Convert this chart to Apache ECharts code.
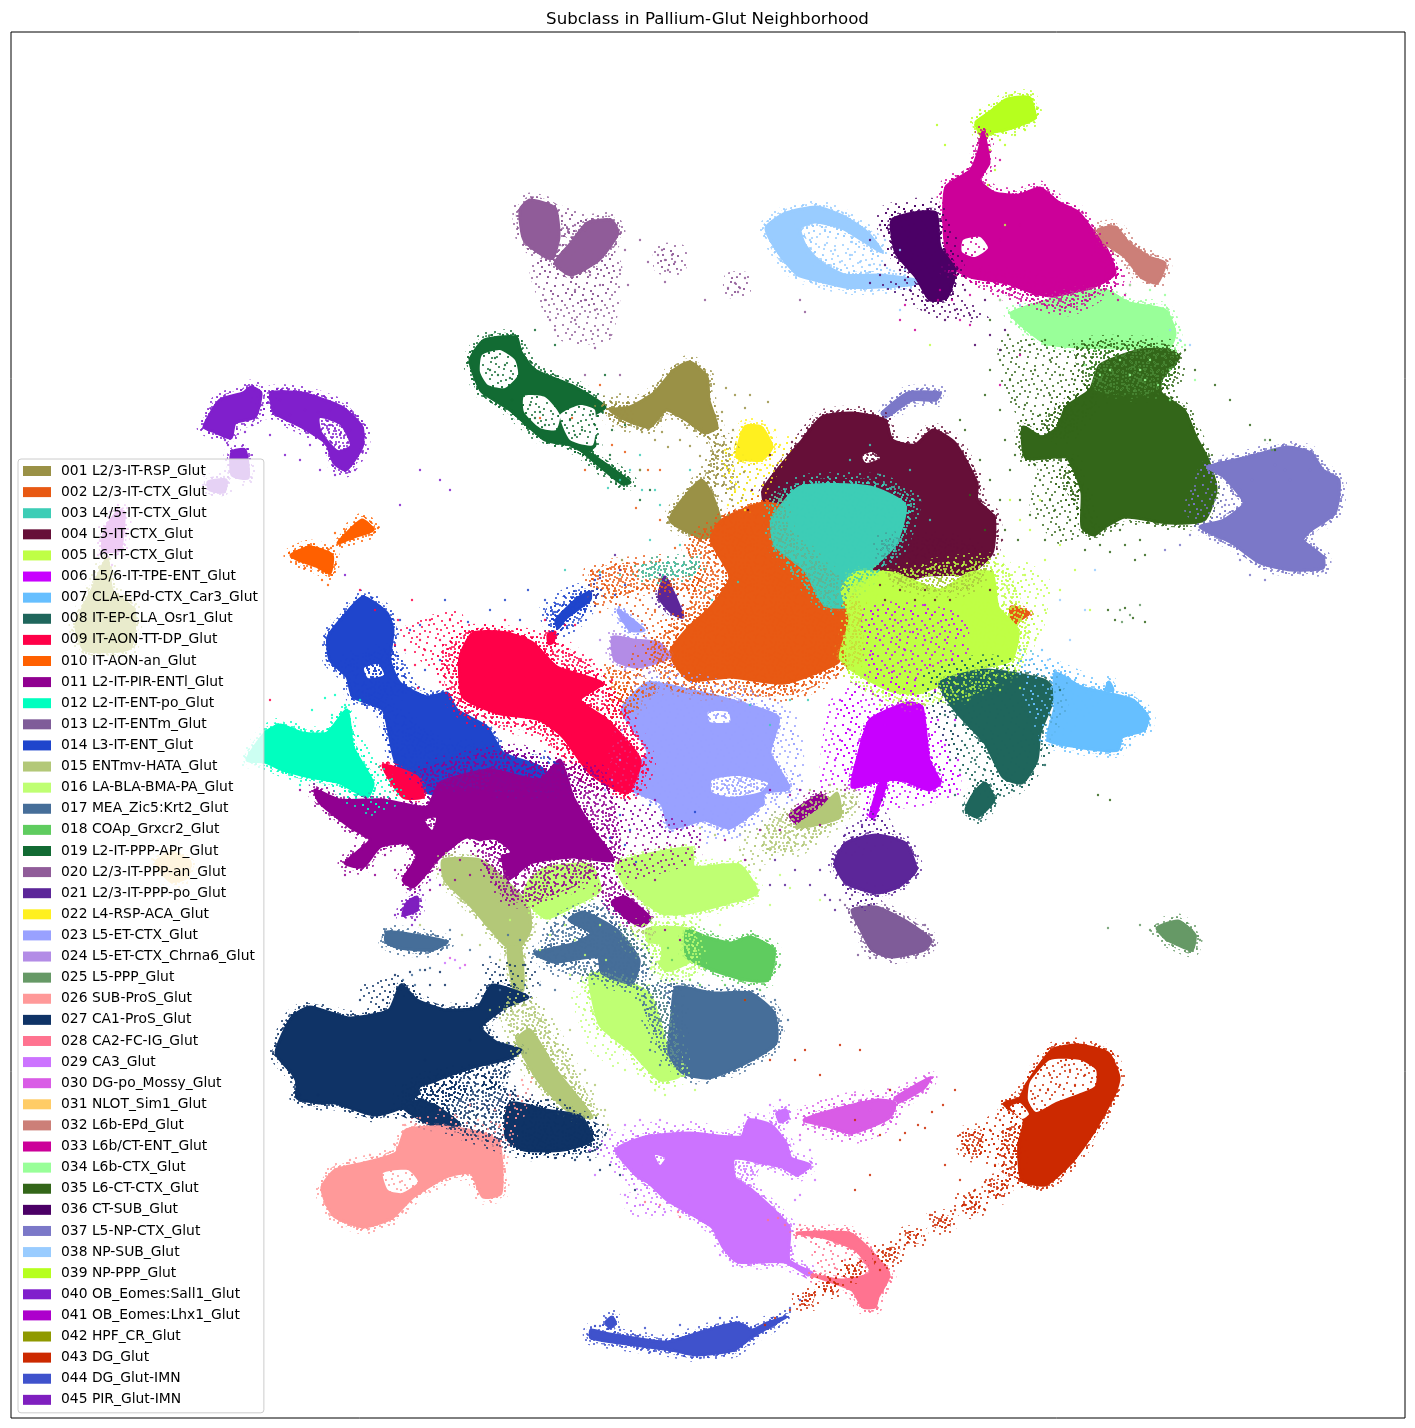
<!DOCTYPE html>
<html>
<head>
<meta charset="utf-8">
<script src="https://cdn.jsdelivr.net/npm/echarts@6/dist/echarts.min.js"></script>
<style>html,body{margin:0;padding:0;background:#fff}#main{width:1415px;height:1428px}</style>
</head>
<body>
<div id="main"></div>
<script>
const names = ['001 L2/3-IT-RSP_Glut','002 L2/3-IT-CTX_Glut','003 L4/5-IT-CTX_Glut','004 L5-IT-CTX_Glut','005 L6-IT-CTX_Glut','006 L5/6-IT-TPE-ENT_Glut','007 CLA-EPd-CTX_Car3_Glut','008 IT-EP-CLA_Osr1_Glut','009 IT-AON-TT-DP_Glut','010 IT-AON-an_Glut','011 L2-IT-PIR-ENTl_Glut','012 L2-IT-ENT-po_Glut','013 L2-IT-ENTm_Glut','014 L3-IT-ENT_Glut','015 ENTmv-HATA_Glut','016 LA-BLA-BMA-PA_Glut','017 MEA_Zic5:Krt2_Glut','018 COAp_Grxcr2_Glut','019 L2-IT-PPP-APr_Glut','020 L2/3-IT-PPP-an_Glut','021 L2/3-IT-PPP-po_Glut','022 L4-RSP-ACA_Glut','023 L5-ET-CTX_Glut','024 L5-ET-CTX_Chrna6_Glut','025 L5-PPP_Glut','026 SUB-ProS_Glut','027 CA1-ProS_Glut','028 CA2-FC-IG_Glut','029 CA3_Glut','030 DG-po_Mossy_Glut','031 NLOT_Sim1_Glut','032 L6b-EPd_Glut','033 L6b/CT-ENT_Glut','034 L6b-CTX_Glut','035 L6-CT-CTX_Glut','036 CT-SUB_Glut','037 L5-NP-CTX_Glut','038 NP-SUB_Glut','039 NP-PPP_Glut','040 OB_Eomes:Sall1_Glut','041 OB_Eomes:Lhx1_Glut','042 HPF_CR_Glut','043 DG_Glut','044 DG_Glut-IMN','045 PIR_Glut-IMN'];
const colors = ['#9A9146','#E85913','#3DCDB6','#660F38','#BFFF45','#C800FF','#66BFFF','#1F665C','#FF0048','#FF6000','#900090','#00FFBF','#7F5C99','#1F45CC','#B3C878','#BFFF73','#466E99','#5FCC5F','#126B33','#905C99','#5C2699','#FFF01F','#99A1FF','#B38CE6','#669966','#FF9999','#0F3366','#FF7390','#CC73FF','#D95CE6','#FFCC66','#CC7F78','#CC0099','#99FF99','#336619','#4B0066','#7B78C8','#99CCFF','#B6FF1E','#801FCC','#AD00CC','#8F9900','#CC2900','#3F52CC','#7F1FBF'];
// subclass numbers in the order they get painted
const paintOrder = [42,41,31,45,40,10,20,19,39,38,33,36,32,34,35,37,25,4,1,22,2,3,5,6,8,7,24,23,12,14,9,11,15,16,18,17,27,26,29,28,30,43,44,21,13];
// subclasses whose loose surroundings are thick with cells
const thickHaze = [1,2,3,4,5,9,11,14,15,16,17,27,33,34,35,43];
// holes that stay nearly empty
const emptyGaps = [19,26,28,33,43];

// dense bodies of each subclass, UMAP position
const core = {};
core[1] = [[[610,410],[630,407],[654,393],[674,370],[690,362],[707,377],[709,400],[717,427],[705,433],[686,420],[666,410],[650,427],[626,420]],[[701,480],[670,520],[705,538],[721,527],[713,497]]];
core[2] = [[[711,540],[722,520],[763,503],[790,510],[815,560],[825,597],[855,610],[850,640],[837,663],[785,683],[730,677],[689,680],[670,653],[689,627],[711,607],[730,577]],[[1011,607],[1029,613],[1020,620],[1013,628]]];
core[3] = [[[772,520],[800,487],[870,487],[905,505],[895,545],[860,580],[855,605],[825,605],[805,570],[775,545]]];
core[4] = [[[763,490],[800,443],[822,417],[852,413],[885,420],[892,440],[915,445],[933,430],[955,443],[977,483],[977,500],[994,517],[992,553],[970,573],[926,575],[896,585],[860,590],[800,560],[770,520]]];
core[5] = [[[855,573],[892,573],[940,590],[970,573],[992,573],[998,607],[1018,630],[1011,660],[970,670],[944,683],[918,693],[889,690],[852,670],[840,657],[850,620],[842,590]]];
core[6] = [[[907,703],[922,707],[929,760],[940,783],[929,790],[903,780],[881,780],[852,787],[859,753],[870,720]],[[881,780],[886,783],[874,817],[870,816]]];
core[7] = [[[1055,673],[1081,687],[1107,693],[1133,700],[1148,717],[1144,730],[1122,737],[1118,750],[1100,750],[1077,747],[1048,740],[1055,707]],[[1106,690],[1109,682],[1113,690]]];
core[8] = [[[940,683],[985,670],[1044,680],[1055,693],[1040,733],[1037,760],[1022,783],[1003,777],[985,743],[955,710]],[[985,783],[994,800],[977,817],[966,810],[974,793]]];
core[9] = [[[473,633],[507,633],[533,643],[557,667],[602,683],[580,700],[607,720],[640,760],[627,793],[590,773],[563,737],[540,720],[497,713],[463,697],[460,657]],[[383,765],[417,777],[423,797],[403,797]],[[548,635],[555,632],[553,642],[549,644]]];
core[10] = [[[291,555],[310,547],[332,555],[330,573],[318,567],[298,560]],[[338,543],[362,520],[373,530],[354,537]]];
core[11] = [[[315,790],[340,800],[383,800],[427,807],[440,783],[490,770],[540,780],[560,760],[573,797],[593,830],[613,860],[573,857],[530,863],[507,880],[500,850],[467,837],[440,857],[423,877],[413,887],[403,880],[417,857],[407,843],[380,847],[363,867],[345,863],[370,840],[350,827],[320,803]],[[612,902],[625,897],[650,918],[642,926],[625,917]],[[790,815],[820,795],[828,800],[800,825]]];
core[12] = [[[247,760],[265,733],[280,725],[303,733],[327,733],[347,710],[353,747],[373,783],[367,797],[340,783],[310,777],[283,770],[265,762]]];
core[13] = [[[852,910],[876,907],[909,923],[931,940],[924,950],[891,957],[872,950],[861,930]]];
core[14] = [[[363,597],[387,613],[393,630],[390,660],[400,683],[427,697],[447,693],[457,710],[487,727],[503,753],[540,767],[560,790],[470,800],[420,790],[395,760],[383,710],[353,697],[347,677],[330,660],[328,637],[343,617]],[[556,620],[578,598],[590,592],[590,600],[566,618],[558,628]]];
core[15] = [[[443,860],[480,860],[505,880],[528,905],[530,930],[517,950],[505,945],[470,905],[445,880]],[[508,945],[520,945],[523,990],[514,990]],[[517,1040],[530,1030],[556,1070],[592,1117],[571,1113],[538,1080]],[[796,827],[822,808],[837,793],[840,817],[815,825]]];
core[16] = [[[617,863],[691,848],[694,867],[739,865],[757,893],[728,903],[687,913],[661,913],[625,885]],[[524,897],[530,880],[546,868],[590,865],[600,890],[575,905],[546,918]],[[590,975],[612,975],[650,995],[665,1040],[680,1075],[660,1080],[630,1050],[600,1025]],[[646,930],[691,930],[691,960],[665,970]]];
core[17] = [[[676,987],[713,993],[750,993],[774,1013],[776,1043],[746,1063],[709,1078],[683,1073],[669,1053],[672,1013]],[[387,932],[415,935],[447,942],[432,950],[400,948],[386,942]],[[569,920],[583,912],[617,930],[639,960],[632,983],[602,973],[598,957],[554,962],[535,953],[576,943],[591,933]]];
core[18] = [[[687,930],[706,937],[731,943],[750,937],[774,950],[768,980],[746,980],[713,970],[687,957]]];
core[19] = [[[470,360],[484,340],[516,337],[521,352],[535,370],[575,387],[605,407],[590,418],[595,445],[585,452],[570,445],[545,440],[510,410],[482,392],[475,378]],[[575,445],[585,450],[630,482],[622,484]]];
core[20] = [[[520,210],[530,200],[555,208],[559,237],[553,258],[547,258],[524,240]],[[587,223],[611,220],[618,233],[599,260],[571,275],[555,263],[571,243]]];
core[21] = [[[835,863],[846,843],[876,835],[905,843],[916,870],[898,887],[876,893],[846,883]],[[665,577],[683,617],[672,613],[659,597]]];
core[22] = [[[737,457],[745,427],[761,427],[772,447],[761,460]]];
core[23] = [[[648,683],[689,690],[730,700],[778,717],[770,753],[789,788],[763,793],[763,803],[730,828],[704,820],[670,828],[661,803],[618,783],[648,753],[622,710]],[[618,610],[644,630],[630,630]]];
core[24] = [[[613,637],[633,640],[659,643],[670,657],[637,667],[615,660]]];
core[25] = [[[1157,928],[1178,921],[1195,935],[1192,950],[1178,945],[1165,938]]];
core[26] = [[[322,1187],[335,1170],[364,1163],[396,1153],[406,1130],[446,1127],[481,1133],[499,1143],[501,1193],[483,1197],[471,1173],[446,1177],[413,1197],[392,1218],[364,1227],[335,1217],[326,1203]]];
core[27] = [[[276,1053],[292,1017],[310,1007],[349,1018],[389,1010],[401,985],[417,1000],[446,1010],[478,1007],[492,985],[528,997],[506,1007],[481,1027],[496,1042],[521,1050],[510,1058],[474,1067],[431,1083],[403,1107],[374,1115],[335,1103],[319,1103],[297,1098],[297,1083],[292,1073]],[[510,1103],[546,1110],[581,1117],[592,1140],[563,1150],[524,1150],[506,1137]],[[403,1107],[425,1100],[460,1125],[432,1125]]];
core[28] = [[[797,1233],[849,1233],[867,1247],[889,1275],[878,1297],[875,1307],[863,1307],[852,1290],[812,1275],[841,1280],[871,1273],[856,1250],[826,1238]]];
core[29] = [[[616,1150],[645,1137],[690,1133],[741,1137],[749,1120],[771,1125],[786,1143],[791,1158],[810,1165],[797,1175],[782,1167],[756,1163],[734,1177],[752,1190],[789,1227],[789,1260],[812,1273],[808,1275],[785,1262],[738,1262],[723,1247],[712,1227],[667,1200],[649,1183],[638,1177]],[[777,1113],[786,1110],[788,1118],[780,1122]]];
core[30] = [[[804,1120],[841,1108],[878,1100],[895,1103],[889,1118],[852,1133],[830,1127]],[[895,1098],[930,1078],[924,1088],[899,1102]]];
core[31] = [[[156,862],[172,853],[190,862],[186,878],[170,881]]];
core[32] = [[[1098,230],[1115,227],[1129,243],[1149,257],[1165,263],[1157,283],[1141,277],[1125,257],[1105,243]]];
core[33] = [[[983,132],[989,163],[979,180],[995,193],[1019,195],[1040,188],[1058,202],[1078,212],[1090,227],[1107,250],[1115,273],[1102,283],[1066,297],[1034,293],[1007,283],[971,277],[950,265],[944,230],[946,187],[971,170],[979,150]]];
core[34] = [[[1011,313],[1050,300],[1105,290],[1129,303],[1165,310],[1175,333],[1169,347],[1078,347],[1046,343],[1019,323]]];
core[35] = [[[1023,427],[1042,437],[1058,427],[1066,407],[1090,390],[1100,365],[1140,350],[1169,350],[1179,357],[1161,380],[1161,393],[1184,410],[1196,437],[1208,460],[1216,490],[1204,520],[1169,523],[1125,517],[1105,527],[1094,535],[1082,527],[1082,493],[1074,470],[1066,457],[1026,458]]];
core[36] = [[[892,220],[920,212],[936,213],[940,247],[955,270],[947,297],[930,300],[916,277],[896,253]]];
core[37] = [[[1208,467],[1248,457],[1287,447],[1311,453],[1323,470],[1339,480],[1335,513],[1311,530],[1303,540],[1323,557],[1323,568],[1291,570],[1260,563],[1232,543],[1200,527],[1224,520],[1244,503],[1224,477]],[[882,413],[908,393],[940,393],[936,400],[912,400],[886,417]]];
core[38] = [[[766,228],[786,213],[817,207],[845,217],[868,233],[882,252],[862,240],[842,228],[815,222],[800,228],[805,245],[820,262],[845,275],[880,275],[915,280],[915,284],[880,287],[845,287],[815,280],[798,275],[780,255]]];
core[39] = [[[976,122],[990,112],[1005,100],[1020,97],[1030,98],[1035,118],[1020,125],[1005,130],[990,133],[984,140],[978,130]]];
core[40] = [[[204,427],[220,400],[243,393],[251,387],[261,393],[255,417],[235,423],[231,438],[215,432]],[[271,393],[302,393],[342,407],[362,427],[362,447],[346,470],[334,463],[326,443],[302,427],[275,413]],[[232,452],[245,450],[248,478],[232,475]],[[208,482],[226,480],[224,492],[210,490]]];
core[41] = [[[117,512],[124,512],[120,550],[103,550],[105,530]]];
core[42] = [[[107,558],[112,590],[134,610],[130,648],[85,650],[76,625],[92,590]]];
core[43] = [[[1019,1143],[1024,1120],[1004,1104],[1020,1098],[1026,1085],[1052,1050],[1078,1045],[1108,1053],[1119,1077],[1115,1093],[1093,1133],[1071,1163],[1045,1185],[1022,1180],[1019,1163]]];
core[44] = [[[591,1330],[591,1338],[634,1345],[671,1350],[697,1355],[734,1350],[752,1337],[786,1317],[767,1323],[752,1330],[738,1323],[708,1330],[667,1342],[634,1338],[604,1333]],[[606,1322],[612,1317],[615,1322],[610,1328]]];
core[45] = [[[407,903],[417,897],[417,910],[403,915]]];

// thinner surroundings, sparsely covered parts of a subclass
const haze = {};
haze[1] = [[[705,433],[728,440],[735,490],[705,480],[712,450]],[[600,403],[630,400],[626,428],[610,420]]];
haze[2] = [[[690,540],[780,495],[790,530],[830,570],[860,600],[860,660],[790,695],[670,690],[650,650],[690,600]],[[590,570],[660,560],[700,565],[695,590],[640,590],[595,605]],[[605,670],[640,675],[660,690],[640,700],[610,700]],[[610,690],[640,690],[640,710],[610,720]]];
haze[3] = [[[770,500],[805,480],[880,480],[915,500],[900,550],[870,580],[830,610],[800,580],[775,550]],[[640,565],[700,560],[695,575],[640,578]]];
haze[4] = [[[880,540],[960,540],[990,560],[970,590],[915,590],[890,580]]];
haze[5] = [[[850,590],[900,570],[1000,560],[1030,630],[1020,670],[960,700],[900,705],[850,680]]];
haze[6] = [[[850,690],[935,690],[950,790],[850,800]],[[870,610],[960,620],[955,680],[880,690]]];
haze[7] = [[[1022,655],[1060,668],[1100,690],[1050,740],[1030,700]]];
haze[8] = [[[925,680],[985,660],[1060,680],[1060,720],[1035,770],[1015,790],[980,790],[955,750]]];
haze[9] = [[[440,650],[470,630],[555,640],[605,680],[650,760],[630,800],[580,780],[540,735],[470,720],[450,700]]];
haze[11] = [[[500,770],[600,770],[620,860],[540,900],[505,900],[470,830]],[[420,770],[520,750],[580,790],[500,790],[440,800]],[[600,870],[625,890],[655,935],[630,930],[600,900]]];
haze[12] = [[[340,720],[370,760],[400,795],[370,810],[340,790]]];
haze[14] = [[[380,700],[440,740],[560,760],[570,790],[470,790],[405,770]],[[345,660],[395,650],[410,690],[360,700]],[[545,610],[575,590],[600,590],[580,620],[555,635]]];
haze[15] = [[[505,1000],[530,1000],[600,1120],[560,1110],[515,1050]],[[770,820],[840,790],[860,800],[800,850],[760,850]]];
haze[16] = [[[580,970],[660,990],[685,1075],[655,1085],[620,1040],[590,1000]],[[620,930],[690,920],[700,970],[670,985],[640,960]]];
haze[17] = [[[640,990],[680,985],[680,1070],[660,1050]],[[550,925],[600,905],[650,960],[640,990],[600,980],[545,965]]];
haze[20] = [[[555,212],[590,222],[572,250],[555,245]],[[540,260],[610,255],[600,300],[560,295]],[[660,250],[680,250],[680,268],[660,268]],[[730,278],[746,278],[744,292],[730,292]]];
haze[21] = [[[850,830],[880,815],[890,840],[850,850]],[[845,885],[880,890],[870,905],[850,900]]];
haze[22] = [[[725,455],[770,455],[790,440],[745,510]]];
haze[23] = [[[640,680],[700,680],[790,715],[795,795],[730,835],[660,835],[610,790]]];
haze[27] = [[[403,1085],[470,1070],[520,1095],[600,1125],[600,1150],[530,1155],[450,1130],[400,1115]]];
haze[26] = [[[410,1125],[500,1125],[530,1080],[525,1095],[505,1145],[450,1120]]];
haze[29] = [[[600,1145],[640,1135],[650,1190],[625,1175]],[[625,1198],[660,1205],[660,1212],[635,1210]]];
haze[33] = [[[945,270],[1110,285],[1070,310],[1020,300]],[[1090,230],[1125,280],[1110,290]]];
haze[34] = [[[1090,345],[1175,340],[1175,375],[1150,395],[1095,390]]];
haze[35] = [[[1075,345],[1170,345],[1180,375],[1160,395],[1090,395]],[[1075,390],[1100,395],[1065,440],[1040,425]],[[1075,460],[1095,530],[1060,480]]];
haze[36] = [[[880,215],[935,205],[960,280],[920,290]]];
haze[37] = [[[1205,470],[1240,470],[1255,510],[1215,525],[1190,510]]];
haze[38] = [[[800,225],[860,238],[885,270],[840,275],[815,260]]];
haze[40] = [[[255,395],[275,395],[275,412],[258,412]]];
haze[43] = [[[1000,1130],[1020,1125],[1020,1180],[1000,1170]],[[961,1133],[982,1130],[982,1155],[965,1155]],[[988,1182],[1010,1178],[1003,1198],[990,1198]],[[960,1198],[982,1197],[978,1213],[962,1211]],[[932,1216],[950,1216],[950,1228],[935,1228]],[[905,1232],[922,1232],[920,1243],[907,1243]],[[878,1248],[900,1248],[896,1262],[880,1262]],[[845,1265],[862,1265],[860,1277],[846,1277]],[[822,1280],[840,1278],[838,1292],[824,1292]],[[798,1295],[815,1290],[812,1305],[800,1305]]];
haze[30] = [[[800,1115],[840,1100],[895,1095],[893,1122],[855,1138],[825,1133]]];

// faint spray, the thinnest areas of a subclass
const mist = {};
mist[1] = [[[715,430],[760,470],[740,510],[715,490]]];
mist[2] = [[[600,580],[640,600],[690,640],[655,690],[620,680],[640,630]]];
mist[5] = [[[1020,560],[1050,580],[1040,640],[1020,620]]];
mist[6] = [[[830,700],[860,700],[850,780],[820,790]],[[935,720],[960,730],[960,795],[945,790]]];
mist[9] = [[[400,630],[460,610],[470,680],[430,670]]];
mist[11] = [[[620,800],[700,830],[700,860],[620,880],[590,840]]];
mist[15] = [[[510,985],[540,1000],[575,1060],[545,1060]],[[740,830],[790,825],[780,860],[745,865]]];
mist[16] = [[[570,990],[600,1010],[620,1070],[590,1050]]];
mist[20] = [[[530,265],[620,260],[610,340],[560,340]]];
mist[27] = [[[360,985],[400,975],[420,995],[370,1010]],[[480,965],[530,960],[540,985],[495,985]]];
mist[29] = [[[630,1125],[700,1120],[720,1135],[640,1140]]];
mist[35] = [[[1000,340],[1060,345],[1090,395],[1040,425],[1020,420],[1000,380]],[[1040,465],[1075,470],[1085,530],[1060,545],[1030,510]]];
mist[36] = [[[875,280],[960,295],[990,320],[940,320]]];
mist[43] = [[[985,1120],[1020,1100],[1015,1170],[985,1165]]];

// sparse holes inside a body
const gaps = {};
gaps[4] = [[[862,456],[872,452],[880,458],[866,463]]];
gaps[14] = [[[364,668],[378,664],[384,675],[368,678]]];
gaps[16] = [[[640,945],[660,945],[660,960],[645,960]]];
gaps[19] = [[[482,355],[500,350],[515,360],[518,375],[505,388],[488,385],[480,372]],[[524,396],[545,397],[560,415],[556,430],[540,428],[524,412]],[[560,415],[580,405],[595,410],[593,445],[570,440]]];
gaps[20] = [[[565,225],[575,232],[567,238],[562,232]]];
gaps[23] = [[[712,780],[738,776],[768,783],[760,792],[730,797],[712,792]],[[708,712],[728,712],[730,722],[710,722]]];
gaps[26] = [[[383,1173],[408,1170],[418,1182],[402,1193],[388,1190]]];
gaps[27] = [[[420,1088],[452,1080],[470,1090],[445,1105],[425,1100]],[[480,1075],[510,1065],[502,1085],[485,1090]]];
gaps[29] = [[[735,1160],[760,1165],[752,1180],[737,1178]],[[655,1155],[665,1158],[660,1165]]];
gaps[33] = [[[963,240],[980,237],[988,248],[975,257],[962,252]]];
gaps[40] = [[[320,418],[340,425],[350,445],[338,450],[322,432]]];
gaps[43] = [[[1030,1082],[1050,1060],[1080,1060],[1096,1070],[1095,1086],[1078,1094],[1056,1102],[1036,1112],[1028,1100]],[[1010,1107],[1020,1103],[1029,1114],[1022,1119]]];
gaps[11] = [[[480,842],[495,840],[510,852],[495,855]],[[425,820],[436,818],[432,830]]];
gaps[28] = [[[815,1243],[850,1250],[863,1272],[840,1272],[815,1262]]];

// loose single cells scattered around the bodies
const specks = {};
specks[1] = [[726,388],[735,395],[722,412],[745,408],[733,430],[720,445],[744,472],[738,482],[716,458],[700,456],[690,446],[680,440],[662,432],[668,447],[655,440],[642,432],[732,500],[742,498],[728,515],[622,560],[640,470],[750,395],[768,402]];
specks[2] = [[612,445],[625,452],[648,470],[636,508],[660,520],[675,548],[690,555],[660,560],[640,600],[655,610],[620,605],[600,612],[675,628],[655,640],[640,675],[625,690],[610,668],[612,700],[622,714],[598,710],[760,695],[775,700],[745,700],[795,690],[805,695],[600,385],[572,418],[585,470],[540,418],[660,470]];
specks[3] = [[642,490],[655,490],[660,505],[680,545],[640,455],[630,470],[690,470],[650,540],[705,590],[712,600],[658,570],[620,575],[600,572],[738,582],[850,460],[870,445],[880,475],[920,500],[930,520],[905,530],[910,470],[895,540],[790,700],[808,700],[770,725],[750,705],[620,480],[608,488],[565,570]];
specks[4] = [[905,575],[925,590],[935,600],[915,600],[950,600],[990,590],[900,590],[885,600],[880,585],[775,480],[752,490],[748,510],[770,455],[792,442],[1002,540],[1000,520]];
specks[5] = [[1010,500],[1030,530],[1045,560],[1060,545],[1025,575],[1045,610],[1035,640],[1060,590],[1075,570],[1000,690],[1020,688],[1090,610],[1040,500],[1020,520],[968,700],[925,705],[880,705],[930,345],[1005,225]];
specks[6] = [[880,640],[905,650],[925,640],[930,665],[895,620],[870,655],[915,680],[935,690],[880,700],[885,725],[850,730],[840,740],[835,760],[845,770],[945,745],[958,760],[950,790],[960,775],[955,720],[938,720],[840,700],[892,672],[865,675],[925,605],[878,610],[900,640],[945,640],[952,660],[913,632]];
specks[7] = [[1020,650],[1030,660],[1046,668],[1042,650],[1065,690],[1075,680],[1108,684],[1150,725],[1130,745],[1110,755],[1040,740],[1025,665]];
specks[8] = [[945,715],[955,725],[965,745],[975,760],[960,770],[955,795],[985,770],[975,780],[1045,765],[1050,715],[965,690],[1060,690],[940,770],[950,760],[1000,795],[1012,790]];
specks[9] = [[440,640],[425,650],[415,665],[405,650],[450,620],[430,620],[395,645],[375,610],[412,600],[420,640],[398,620],[440,682],[418,688],[545,620],[565,625],[590,660],[612,680],[625,710],[648,770],[640,790],[575,625],[360,590],[270,700],[505,620]];
specks[10] = [[345,535],[340,545],[335,533],[352,528],[322,580],[328,585],[305,568],[300,553],[378,528],[331,548]];
specks[11] = [[625,800],[640,810],[655,800],[670,845],[690,835],[660,825],[610,820],[600,800],[580,780],[620,840],[645,850],[635,865],[700,840],[725,840],[610,880],[630,905],[665,930],[680,940],[655,880],[590,870],[570,880],[545,880],[535,900],[515,890],[525,870],[770,790],[790,795],[780,830],[820,825],[745,860],[760,830],[800,790],[845,790],[385,855],[395,870],[430,890],[440,870],[460,860],[455,880],[470,875],[300,790],[345,875],[375,875]];
specks[12] = [[360,700],[345,712],[335,695],[332,715],[378,775],[390,780],[395,790],[355,795],[320,782],[300,785],[345,705],[312,710],[325,698]];
specks[13] = [[858,955],[870,958],[905,955],[925,925],[935,945],[845,905],[852,895],[840,900]];
specks[14] = [[410,630],[420,625],[445,600],[468,622],[490,610],[505,600],[520,620],[425,670],[440,660],[400,620],[545,600],[560,605],[555,612],[600,575],[585,610],[575,598],[615,595],[595,580],[625,585],[528,590],[630,830],[650,805],[625,845],[610,838],[660,825],[695,812],[620,815],[636,862]];
specks[15] = [[740,850],[760,870],[745,840],[715,835],[770,850],[790,840],[810,790],[830,785],[848,812],[855,790],[700,828],[500,960],[525,1005],[545,1020],[560,1050],[595,1085],[605,1110],[585,1070],[608,1125],[535,1015],[570,1030],[500,1018],[490,1010],[420,925],[462,935],[480,945],[530,915]];
specks[16] = [[565,925],[550,935],[540,950],[585,955],[600,925],[575,940],[570,975],[585,1010],[610,1000],[625,1070],[640,1070],[655,1090],[695,1090],[665,1095],[770,905],[790,888],[780,875],[820,900],[700,920],[720,925],[510,920],[620,925],[606,960],[590,985]];
specks[17] = [[780,1010],[788,1020],[782,1030],[775,1000],[655,1020],[660,1005],[650,1050],[660,1065],[645,1010],[640,1000],[520,940],[508,935],[450,930],[470,950],[490,957],[412,975],[420,970],[430,968],[403,980],[415,985],[500,990],[525,985],[540,985],[555,990]];
specks[18] = [[700,985],[725,985],[760,990],[745,1000],[690,980],[780,965],[668,948],[672,960],[650,920]];
specks[19] = [[490,370],[498,375],[505,365],[510,378],[495,358],[530,405],[540,412],[545,425],[535,418],[570,420],[582,430],[590,415],[575,435],[595,425],[612,430],[625,425],[610,455],[640,470],[650,490],[640,500],[605,375],[512,400],[535,330],[555,345]];
specks[20] = [[562,216],[575,225],[568,232],[578,236],[585,230],[560,245],[564,252],[590,275],[600,285],[575,290],[585,300],[595,310],[620,270],[625,250],[628,285],[545,300],[550,320],[575,320],[598,330],[610,335],[595,348],[555,330],[640,240],[665,260],[672,255],[658,255],[675,262],[668,270],[662,250],[648,262],[665,282],[735,283],[740,288],[728,288],[745,278],[738,292],[705,300],[800,300],[805,312],[620,375],[585,375]];
specks[21] = [[820,870],[810,885],[825,895],[835,910],[830,900],[845,835],[862,825],[875,820],[868,810],[882,800],[660,575],[672,590],[658,600],[615,555],[620,570],[600,578],[785,885],[795,870],[770,885],[775,860]];
specks[22] = [[730,470],[735,490],[728,505],[745,490],[760,470],[770,465],[750,480],[725,450],[780,445],[775,430],[745,510]];
specks[23] = [[792,800],[800,775],[775,800],[745,825],[740,835],[612,780],[605,790],[620,760],[622,730]];
specks[24] = [[610,648],[625,670],[650,672],[672,665],[600,640]];
specks[25] = [[1150,930],[1140,925],[1200,940],[1108,928],[1120,610],[1130,615],[1140,605],[1122,622],[1265,440],[1272,450]];
specks[26] = [[405,1125],[420,1118],[440,1110],[470,1105],[495,1110],[510,1095],[522,1080],[515,1108],[478,1120],[455,1115],[500,1125],[395,1145],[370,1155],[350,1160],[500,1160],[510,1135],[382,1180],[400,1182]];
specks[27] = [[383,1000],[395,975],[445,985],[360,1000],[430,985],[500,975],[525,965],[510,965],[515,985],[410,972],[425,970],[440,972],[595,1150],[600,1145],[605,1135],[610,1165],[600,1170],[590,1160],[620,1175],[635,1190],[575,1160],[555,1158],[318,1095],[300,1095],[440,1088],[460,1080],[490,1080],[505,1075],[515,1090],[470,1100],[430,1095],[560,1100],[548,1100],[570,1108],[425,1060],[470,1040],[490,1030],[495,1015]];
specks[28] = [[768,1220],[778,1218],[785,1225],[800,1225],[815,1235],[660,1205],[645,1202],[678,1212],[680,1217],[830,1245],[845,1260],[860,1265],[835,1268],[830,1232]];
specks[29] = [[610,1130],[625,1125],[640,1120],[660,1120],[625,1195],[640,1205],[665,1212],[690,1195],[700,1220],[730,1260],[795,1200],[800,1195],[770,1105],[745,1115],[780,1100],[800,1140],[810,1150],[815,1180],[590,1150],[595,1175],[445,963],[455,960],[460,968],[720,1255]];
specks[30] = [[800,1135],[815,1128],[845,1135],[860,1128],[855,1095],[890,1090],[450,958],[465,965],[870,1110]];
specks[33] = [[938,300],[970,295],[1010,290],[1040,302],[1060,310],[1085,300],[980,270],[1000,240],[1020,225],[1130,285],[1125,295],[1118,300],[905,305],[900,320],[915,330],[960,320],[1000,160],[1005,195],[970,325],[1000,300],[1020,355],[1000,385],[940,290],[952,300]];
specks[34] = [[1180,330],[1172,350],[1185,345],[1120,360],[1130,375],[1140,370],[1110,370],[1170,370],[1158,385],[1150,360],[1100,375],[1085,365],[1095,350],[1165,295],[1150,290],[1130,285],[1000,300],[1120,340],[1145,380],[1170,400],[1195,380]];
specks[35] = [[1020,350],[1035,370],[1050,395],[1015,400],[1040,415],[1025,405],[1000,360],[1010,380],[1060,375],[1050,360],[1075,380],[1030,345],[1008,335],[990,320],[1045,340],[990,370],[985,395],[965,430],[980,460],[990,480],[1010,470],[1020,500],[1040,480],[1060,470],[1030,515],[1050,500],[1000,500],[1005,530],[1018,540],[1045,540],[1060,530],[1075,500],[1070,520],[1055,510],[1085,550],[1100,545],[1120,530],[1135,560],[1145,555],[1125,545],[1140,540],[1110,552],[985,530],[970,495],[975,560],[960,420],[1195,370],[1215,385],[1230,400],[1250,425],[1270,440],[1275,450],[1185,350],[1108,610],[1125,608],[1133,618],[1145,622],[1115,620],[1098,795],[1110,800],[1072,460],[1035,465],[1015,455],[1005,440],[1000,410]];
specks[36] = [[880,225],[870,240],[885,265],[900,270],[880,275],[905,280],[950,285],[965,290],[925,310],[955,310],[985,300],[970,315],[945,320],[990,335],[975,345],[1000,350],[1005,330],[910,290],[870,283]];
specks[37] = [[1195,490],[1215,500],[1240,490],[1252,480],[1225,505],[1190,535],[1215,540],[1240,560],[1180,545],[1165,550],[1250,575],[1265,580],[1300,572],[1340,495],[1285,470],[1275,465],[1290,480],[1310,470]];
specks[38] = [[810,240],[825,245],[835,250],[850,255],[860,262],[840,262],[870,265],[825,230],[852,242],[880,265],[890,270],[905,270],[900,250],[885,240],[1020,305],[900,310],[1170,330],[1180,340],[1190,345],[1060,600],[1048,660],[1085,610],[1095,570],[1070,640]];
specks[39] = [[990,150],[1000,140],[1015,135],[980,110],[1005,145],[995,170],[988,185],[937,125],[945,145],[1025,130],[1038,108]];
specks[40] = [[252,425],[245,432],[225,440],[228,445],[262,405],[280,400],[290,415],[270,435],[285,455],[300,460],[320,470],[335,475],[355,470],[420,470],[440,480],[450,490],[400,505],[345,575],[310,445],[330,425],[340,435],[345,450],[330,410],[318,412],[350,430],[305,410]];
specks[41] = [[118,505],[110,522],[98,555],[112,565]];
specks[42] = [[82,640],[125,600],[137,625],[72,630]];
specks[43] = [[905,1133],[918,1125],[925,1128],[932,1112],[943,1105],[955,1090],[900,1140],[890,1090],[880,1135],[870,1175],[855,1190],[945,1165],[960,1180],[975,1205],[955,1210],[965,1205],[930,1215],[945,1220],[935,1225],[910,1235],[925,1240],[975,1190],[985,1182],[995,1165],[1000,1155],[1005,1140],[973,1135],[980,1145],[960,1135],[968,1150],[990,1130],[1000,1120],[1010,1130],[985,1210],[1000,1195],[1002,1185],[990,1180],[970,1195],[900,1240],[905,1245],[890,1250],[885,1255],[875,1262],[880,1270],[860,1262],[855,1270],[830,1280],[825,1290],[815,1295],[805,1300],[800,1305],[790,1310],[775,1318],[765,1325],[855,1120],[1048,1090],[1060,1085],[1070,1070],[1085,1075],[1040,1090],[1050,1075],[1035,1098],[1075,1085],[1065,1065],[1090,1065],[745,1000],[770,1060],[795,1060],[820,1075],[805,1050],[840,1045],[860,1050]];
specks[44] = [[600,1326],[605,1332],[595,1326],[640,1335],[680,1325],[720,1318],[745,1325],[755,1335],[770,1320],[700,1358],[650,1352],[620,1330],[790,1308],[800,1300],[645,1328]];
specks[45] = [[420,890],[430,880],[440,885],[410,890],[395,915],[415,920],[412,925]];

// dot offsets of the stipple used to paint thin areas (style only)
const stipple = [[3,5],[11,2],[19,7],[27,3],[35,6],[6,13],[15,12],[23,15],[31,11],[38,16],[2,21],[10,19],[18,23],[26,20],[34,24],[7,28],[14,31],[22,27],[30,32],[37,29],[4,36],[12,38],[20,34],[28,37],[36,38],[8,9],[16,4],[24,9],[33,14],[5,25],[13,26],[29,25],[21,21],[38,34],[17,37],[9,33],[25,31],[32,19],[1,30],[12,15]];

function makeTile(color, copies) {
  const size = 40;
  const cv = document.createElement('canvas');
  cv.width = cv.height = size;
  const g = cv.getContext('2d');
  g.fillStyle = color;
  stipple.forEach(([x, y]) => {
    const turned = [[x, y], [y, size - x], [size - x, size - y], [size - y, x]];
    turned.slice(0, copies).forEach(([a, b]) => {
      g.beginPath();
      g.arc(a, b, 1, 0, Math.PI * 2);
      g.fill();
    });
  });
  return { image: cv, repeat: 'repeat' };
}
const sparseTiles = colors.map(c => makeTile(c, 1));
const thickTiles = colors.map(c => makeTile(c, 4));

const chart = echarts.init(document.getElementById('main'), null, { renderer: 'canvas' });

function polygonSeries(no, kind, polys) {
  const color = colors[no - 1];
  const sparse = sparseTiles[no - 1], thick = thickTiles[no - 1];
  return {
    type: 'custom',
    name: names[no - 1],
    coordinateSystem: 'cartesian2d',
    silent: true,
    clip: true,
    itemStyle: { color: color },
    data: polys.map((p, i) => [p[0][0], p[0][1], i]),
    encode: { x: 0, y: 1 },
    renderItem: function (params, api) {
      const shape = { points: polys[api.value(2)].map(p => api.coord(p)), smooth: 0.2 };
      let layers;
      if (kind === 'core') {
        layers = [
          { style: { fill: null, stroke: sparse, lineWidth: 15, lineJoin: 'round' } },
          { style: { fill: null, stroke: thick, lineWidth: 8, lineJoin: 'round' } },
          { style: { fill: color, stroke: color, lineWidth: 3, lineJoin: 'round' } }
        ];
      } else if (kind === 'gaps') {
        layers = [
          { style: { fill: '#fff', stroke: sparse, lineWidth: 4 } },
          { style: { fill: emptyGaps.includes(no) ? sparse : thick } }
        ];
      } else if (kind === 'mist') {
        layers = [{ style: { fill: sparse } }];
      } else {
        layers = [
          { style: { fill: null, stroke: sparse, lineWidth: 12, lineJoin: 'round' } },
          { style: { fill: thickHaze.includes(no) ? thick : sparse } }
        ];
      }
      return { type: 'group', children: layers.map(l => ({ type: 'polygon', shape: shape, style: l.style })) };
    }
  };
}

const series = [];
// solid bodies first, loose cells of every subclass mix over them afterwards
paintOrder.forEach(no => {
  series.push(polygonSeries(no, 'core', core[no]));
  if (gaps[no]) series.push(polygonSeries(no, 'gaps', gaps[no]));
});
paintOrder.forEach(no => {
  if (haze[no]) series.push(polygonSeries(no, 'haze', haze[no]));
  if (mist[no]) series.push(polygonSeries(no, 'mist', mist[no]));
});
paintOrder.forEach(no => {
  series.push({
    type: 'scatter',
    name: names[no - 1],
    silent: true,
    symbolSize: 2.4,
    itemStyle: { color: colors[no - 1], opacity: 0.85 },
    data: specks[no] || []
  });
});

chart.setOption({
  animation: false,
  title: {
    text: 'Subclass in Pallium-Glut Neighborhood',
    left: 'center',
    top: 6,
    textStyle: { fontFamily: 'DejaVu Sans', fontSize: 16.67, fontWeight: 'normal', color: '#000' }
  },
  grid: { left: 11, right: 10, top: 32, bottom: 10, show: true, borderColor: '#000', borderWidth: 1, backgroundColor: '#fff' },
  xAxis: { type: 'value', min: 11, max: 1405, show: false },
  yAxis: { type: 'value', min: 32, max: 1418, inverse: true, show: false },
  legend: {
    data: names,
    orient: 'vertical',
    left: 18,
    top: 459,
    padding: [5, 6, 6, 5],
    itemWidth: 28,
    itemHeight: 10,
    itemGap: 7.11,
    icon: 'rect',
    selectedMode: false,
    backgroundColor: 'rgba(255,255,255,0.8)',
    borderColor: '#ccc',
    borderWidth: 1,
    borderRadius: 3,
    textStyle: { fontFamily: 'DejaVu Sans', fontSize: 13.89, color: '#000', padding: [0, 0, 0, 5] }
  },
  series: series
});
</script>
</body>
</html>
